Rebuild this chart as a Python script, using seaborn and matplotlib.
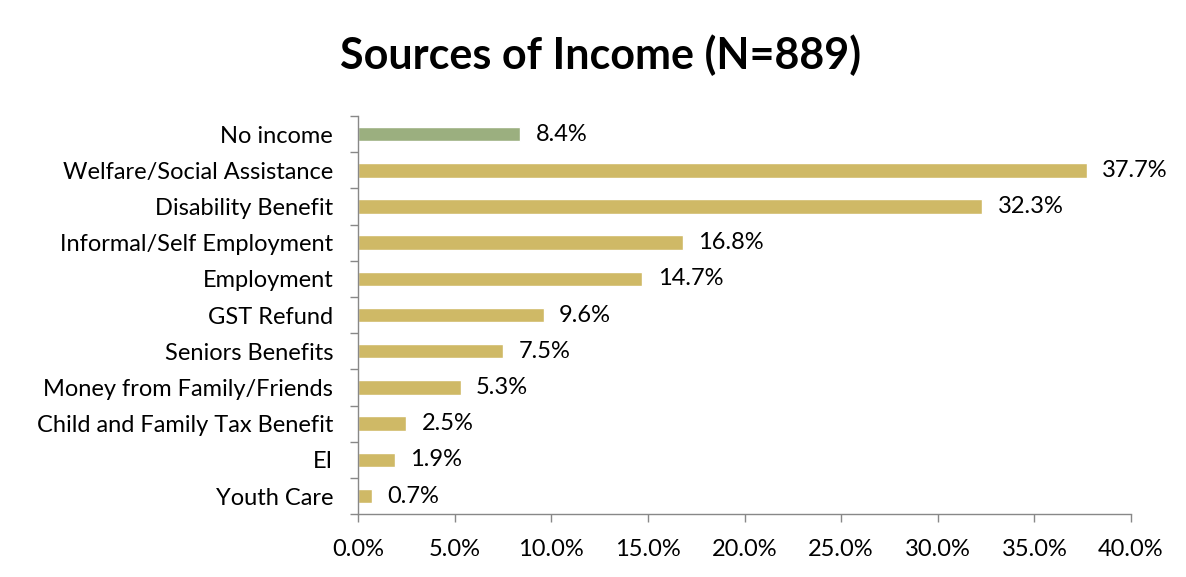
import matplotlib
matplotlib.use("Agg")
import matplotlib.pyplot as plt
import seaborn as sns
import pandas as pd
import numpy as np
from matplotlib.ticker import FixedLocator, FuncFormatter

categories = ["No income", "Welfare/Social Assistance", "Disability Benefit",
              "Informal/Self Employment", "Employment", "GST Refund",
              "Seniors Benefits", "Money from Family/Friends",
              "Child and Family Tax Benefit", "EI", "Youth Care"]
values = [8.4, 37.7, 32.3, 16.8, 14.7, 9.6, 7.5, 5.3, 2.5, 1.9, 0.7]
labels = ["8.4%", "37.7%", "32.3%", "16.8%", "14.7%", "9.6%", "7.5%", "5.3%", "2.5%", "1.9%", "0.7%"]
xticks = [0, 5, 10, 15, 20, 25, 30, 35, 40]

sns.set_theme(style="white")
plt.rcParams['font.family'] = ['Lato', 'DejaVu Sans']
plt.rcParams['text.color'] = 'black'
plt.rcParams['xtick.color'] = 'black'
plt.rcParams['ytick.color'] = 'black'

df = pd.DataFrame({"cat": categories, "val": values})
colors = ["#9BAF7F"] + ["#CFB966"] * (len(categories) - 1)

fig = plt.figure(figsize=(11.86, 5.77), dpi=100)
ax = fig.add_axes([0.302, 0.109, 0.6516, 0.690])
sns.barplot(data=df, y="cat", x="val", hue="cat", palette=colors, legend=False,
            width=0.4, ax=ax, saturation=1)

for i, (v, lab) in enumerate(zip(values, labels)):
    ax.text(v + 0.8, i, lab, va="center", ha="left", fontsize=17, color="black")

ax.set_xlim(0, 40)
ax.set_ylim(len(categories) - 0.5, -0.5)
ax.xaxis.set_major_locator(FixedLocator(xticks))
ax.xaxis.set_major_formatter(FuncFormatter(lambda x, p: f"{x:.1f}%"))
ax.set_xlabel("")
ax.set_ylabel("")
ax.tick_params(axis="x", labelsize=17, length=6, width=1, color="#888888",
               labelcolor="black", direction="out", bottom=True, pad=12)
ax.tick_params(axis="y", which="major", labelsize=17, length=0, pad=18, labelcolor="black")
ax.yaxis.set_minor_locator(FixedLocator(np.arange(-0.5, len(categories), 1)))
ax.tick_params(axis="y", which="minor", length=6, width=1, color="#888888", left=True)
for s in ["top", "right"]:
    ax.spines[s].set_visible(False)
for s in ["left", "bottom"]:
    ax.spines[s].set_color("#888888")
    ax.spines[s].set_linewidth(1)

fig.suptitle("Sources of Income (N=889)", fontsize=31, fontweight="bold",
             x=0.506, y=0.94, color="black")
fig.savefig("out.png", dpi=100)
